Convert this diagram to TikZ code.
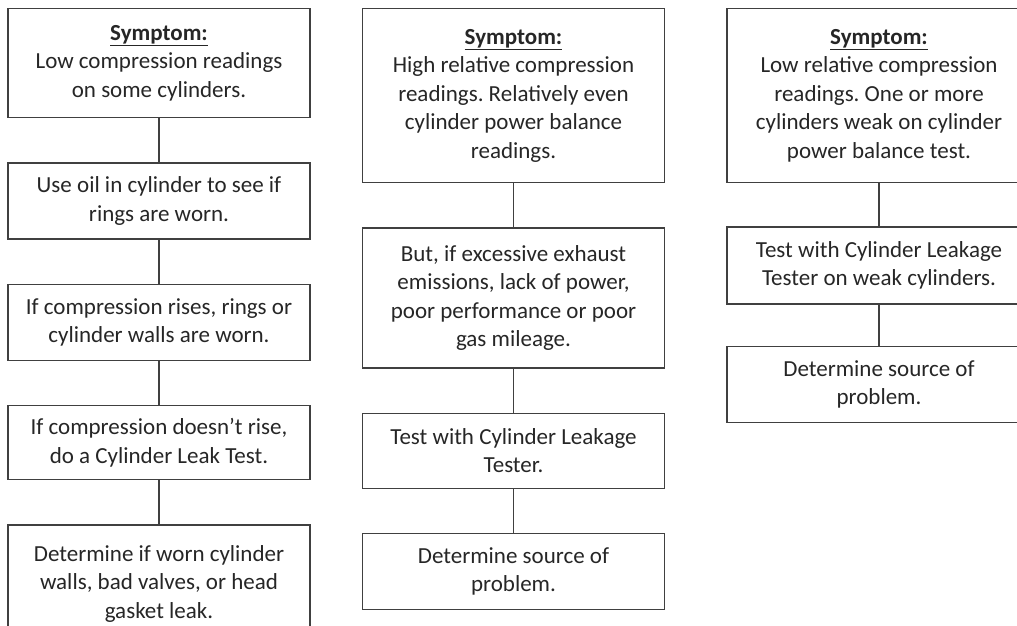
\documentclass[tikz,border=0pt]{standalone}
\usepackage{fontspec}
\setmainfont{Carlito}
\usetikzlibrary{positioning}
\definecolor{linegray}{HTML}{404040}
\definecolor{textgray}{HTML}{262626}
\frenchspacing

\begin{document}
\begin{tikzpicture}[auto, x=1pt, y=1pt,
                    node distance=44pt,
                    block_step/.style ={rectangle, draw=linegray, line width=1.3pt,
                        text=textgray, minimum width=302pt, align=center,
                        inner sep=4pt, font=\fontsize{23}{28.5}\selectfont},
                    line/.style ={draw, line width=1.3pt, linegray}]

    % page frame, the outer boxes run off the edge
    \useasboundingbox (0,0) rectangle (1017,-626);
    \clip (0,0) rectangle (1017,-626);

    % column 1 - low compression
    \node [block_step, minimum height=109pt, anchor=north] (low1) at (159,-8)
        {\underline{\textbf{Symptom:}}\\ Low compression readings\\ on some cylinders.};
    \node [block_step, minimum height=76pt, below=of low1] (low2)
        {Use oil in cylinder to see if\\ rings are worn.};
    \node [block_step, minimum height=76pt, below=of low2] (low3)
        {If compression rises, rings or\\ cylinder walls are worn.};
    \node [block_step, minimum height=74pt, below=of low3] (low4)
        {If compression doesn’t rise,\\ do a Cylinder Leak Test.};
    \node [block_step, minimum height=118pt, below=of low4] (low5)
        {Determine if worn cylinder\\ walls, bad valves, or head\\ gasket leak.};

    % column 2 - high relative compression
    \node [block_step, minimum height=174pt, anchor=north] (high1) at (513.5,-8)
        {\underline{\textbf{Symptom:}}\\ High relative compression\\ readings. Relatively even\\ cylinder power balance\\ readings.};
    \node [block_step, minimum height=140pt, below=of high1] (high2)
        {But, if excessive exhaust\\ emissions, lack of power,\\ poor performance or poor\\ gas mileage.};
    \node [block_step, minimum height=75pt, below=of high2] (high3)
        {Test with Cylinder Leakage\\ Tester.};
    \node [block_step, minimum height=76pt, below=of high3] (high4)
        {Determine source of\\ problem.};

    % column 3 - low relative compression
    \node [block_step, minimum height=174pt, minimum width=304pt, anchor=north] (rel1) at (879,-8)
        {\underline{\textbf{Symptom:}}\\ Low relative compression\\ readings. One or more\\ cylinders weak on cylinder\\ power balance test.};
    \node [block_step, minimum height=77pt, minimum width=304pt, below=43pt of rel1] (rel2)
        {Test with Cylinder Leakage\\ Tester on weak cylinders.};
    \node [block_step, minimum height=76pt, minimum width=304pt, below=41pt of rel2] (rel3)
        {Determine source of\\ problem.};

    % connecting nodes with paths
    \begin{scope}[every path/.style=line]
        \path (low1) -- (low2);
        \path (low2) -- (low3);
        \path (low3) -- (low4);
        \path (low4) -- (low5);
        \path (high1) -- (high2);
        \path (high2) -- (high3);
        \path (high3) -- (high4);
        \path (rel1) -- (rel2);
        \path (rel2) -- (rel3);
    \end{scope}
\end{tikzpicture}
\end{document}
